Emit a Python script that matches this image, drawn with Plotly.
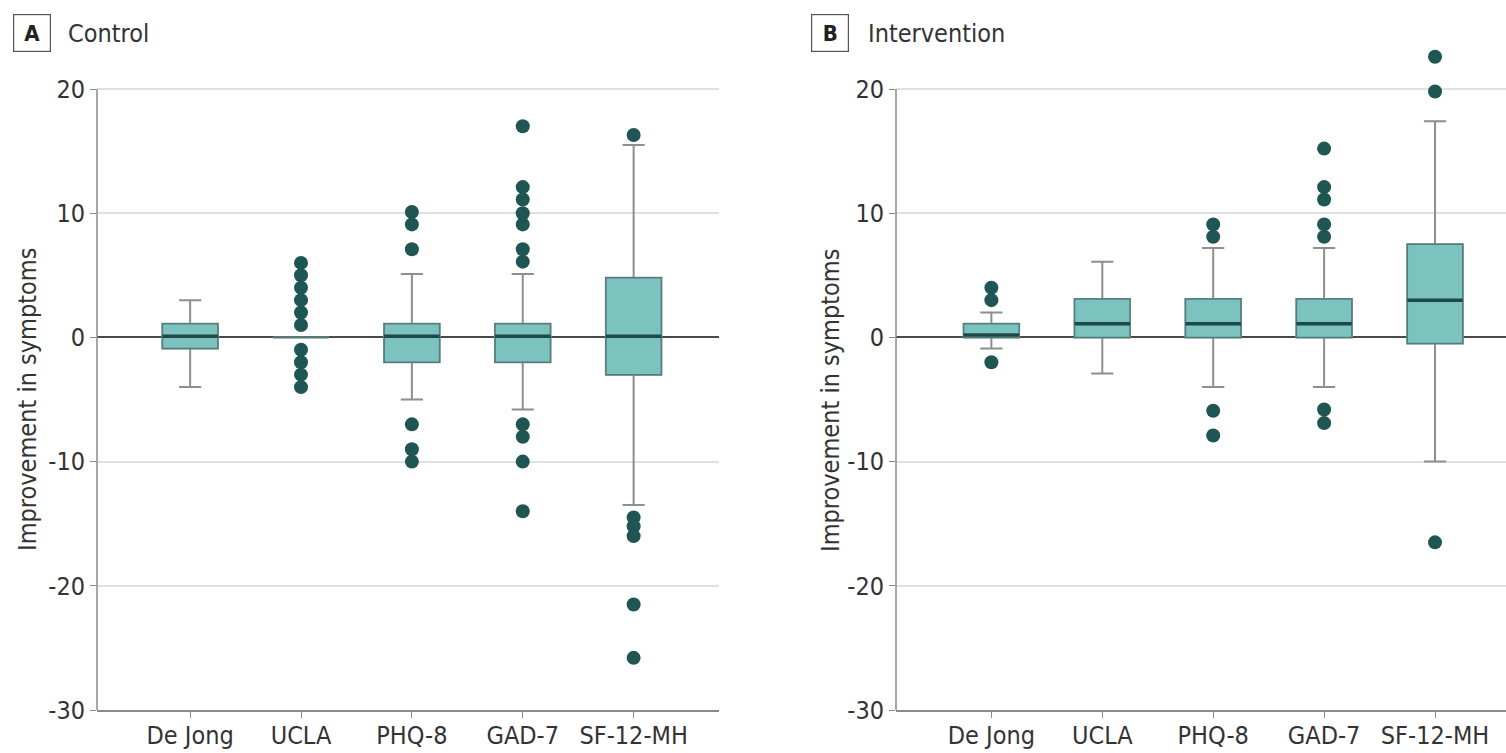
import plotly.graph_objects as go

# Outcome measures on the x axis
categories = ["De Jong", "UCLA", "PHQ-8", "GAD-7", "SF-12-MH"]

# Control group: box summary per measure
control_q1 = [-0.9, 0, -2, -2, -3]
control_median = [0.1, 0, 0.1, 0.1, 0.1]
control_q3 = [1.1, 0, 1.1, 1.1, 4.8]
control_lower = [-4, 0, -5, -5.8, -13.5]
control_upper = [3, 0, 5.1, 5.1, 15.5]
control_outliers = [
    [],
    [6, 5, 4, 3, 2, 1, -1, -2, -3, -4],
    [10.1, 9.1, 7.1, -7, -9, -10],
    [17, 12.1, 11.1, 10, 9.1, 7.1, 6.1, -7, -8, -10, -14],
    [16.3, -14.5, -15.2, -16, -21.5, -25.8],
]

# Intervention group: box summary per measure
intervention_q1 = [0, 0, 0, 0, -0.5]
intervention_median = [0.2, 1.1, 1.1, 1.1, 3.0]
intervention_q3 = [1.1, 3.1, 3.1, 3.1, 7.5]
intervention_lower = [-0.9, -2.9, -4, -4, -10]
intervention_upper = [2, 6.1, 7.2, 7.2, 17.4]
intervention_outliers = [
    [4, 3, -2],
    [],
    [9.1, 8.1, -5.9, -7.9],
    [15.2, 12.1, 11.1, 9.1, 8.1, -5.8, -6.9],
    [22.6, 19.8, -16.5],
]

y_ticks = [20, 10, 0, -10, -20, -30]
y_tick_text = ["20", "10", "0", "-10", "-20", "-30"]
y_axis_min, y_axis_max = -30, 20

FONT = "Liberation Sans Narrow, DejaVu Sans Condensed, Arial Narrow, sans-serif"
FILL = "#7cc2be"
OUTLINE = "#4f7f7d"
WHISKER = "#8e8e8e"
MEDIAN = "#1d4a48"
DOT = "#1f5553"
AXIS = "#8a8a8a"
TEXT = "#333333"
BOX_W = 0.5

W, H = 1506, 753
M_T, M_B = 52, 43
AXIS_TOP_PX, AXIS_BOTTOM_PX = 89, H - M_B
PX_PER_UNIT = (AXIS_BOTTOM_PX - AXIS_TOP_PX) / (y_axis_max - y_axis_min)
# headroom above the drawn axis so high outliers stay visible
y_range_top = y_axis_max + (AXIS_TOP_PX - M_T) / PX_PER_UNIT
PLOT_H = H - M_T - M_B

fig = go.Figure()

panels = [
    dict(q1=control_q1, med=control_median, q3=control_q3, lo=control_lower,
         hi=control_upper, out=control_outliers, xa="x", ya="y"),
    dict(q1=intervention_q1, med=intervention_median, q3=intervention_q3,
         lo=intervention_lower, hi=intervention_upper, out=intervention_outliers,
         xa="x2", ya="y2"),
]

positions = list(range(len(categories)))

for p in panels:
    # whiskers + caps (grey)
    fig.add_trace(go.Box(
        x=positions, q1=p["q1"], median=p["med"], q3=p["q3"],
        lowerfence=p["lo"], upperfence=p["hi"],
        width=BOX_W, whiskerwidth=0.4, fillcolor=FILL,
        line=dict(color=WHISKER, width=2), boxpoints=False,
        hoverinfo="skip", showlegend=False, xaxis=p["xa"], yaxis=p["ya"],
    ))
    # box body with darker outline
    fig.add_trace(go.Box(
        x=positions, q1=p["q1"], median=p["med"], q3=p["q3"],
        lowerfence=p["q1"], upperfence=p["q3"],
        width=BOX_W, whiskerwidth=0, fillcolor=FILL,
        line=dict(color=OUTLINE, width=1.5), boxpoints=False,
        hoverinfo="skip", showlegend=False, xaxis=p["xa"], yaxis=p["ya"],
    ))
    # thick median bars
    mx, my = [], []
    for i, m in enumerate(p["med"]):
        if p["q1"][i] == p["q3"][i]:
            continue
        mx += [i - BOX_W / 2, i + BOX_W / 2, None]
        my += [m, m, None]
    fig.add_trace(go.Scatter(
        x=mx, y=my, mode="lines", line=dict(color=MEDIAN, width=3.5),
        hoverinfo="skip", showlegend=False, xaxis=p["xa"], yaxis=p["ya"],
    ))
    # outliers
    ox, oy = [], []
    for i, vals in enumerate(p["out"]):
        ox += [i] * len(vals)
        oy += vals
    fig.add_trace(go.Scatter(
        x=ox, y=oy, mode="markers", cliponaxis=False,
        marker=dict(color=DOT, size=14, line=dict(width=0)),
        hoverinfo="skip", showlegend=False, xaxis=p["xa"], yaxis=p["ya"],
    ))

xaxis_common = dict(
    tickmode="array", tickvals=positions, ticktext=categories,
    showgrid=False, zeroline=False, showline=True, linecolor=AXIS,
    linewidth=1.5, ticks="outside", ticklen=6, tickcolor=AXIS,
    ticklabelstandoff=-4,
    tickfont=dict(family=FONT, size=25, color=TEXT), fixedrange=True,
)
yaxis_common = dict(
    range=[y_axis_min, y_range_top], tickmode="array", tickvals=y_ticks,
    ticktext=y_tick_text,
    showgrid=True, gridcolor="#e0e0e0", gridwidth=2,
    zeroline=True, zerolinecolor="#4a4a4a", zerolinewidth=1.5,
    showline=False,
    ticks="outside", ticklen=6, tickcolor=AXIS,
    tickfont=dict(family=FONT, size=25, color=TEXT), fixedrange=True,
)

left_dom = [97 / W, 719 / W]
right_dom = [896 / W, 1.0]

fig.update_layout(
    width=W, height=H,
    margin=dict(l=0, r=0, t=M_T, b=M_B),
    paper_bgcolor="white", plot_bgcolor="white",
    font=dict(family=FONT, color=TEXT),
    xaxis=dict(domain=left_dom, range=[-0.84, 4.77], **xaxis_common),
    yaxis=dict(anchor="x", **yaxis_common),
    xaxis2=dict(domain=right_dom, range=[-0.86, 4.64], anchor="y2", **xaxis_common),
    yaxis2=dict(anchor="x2", **yaxis_common),
)

# vertical axis lines span only the labelled range
shapes = []
for xref, yref in [("x domain", "y"), ("x2 domain", "y2")]:
    shapes.append(dict(
        type="line", xref=xref, yref=yref, x0=0, x1=0,
        y0=y_axis_min, y1=y_axis_max, line=dict(color=AXIS, width=1.5),
        layer="above",
    ))
fig.update_layout(shapes=shapes)


def py(px_from_top):
    """Convert a pixel row to paper y coordinate."""
    return (H - M_B - px_from_top) / PLOT_H


annotations = []
for letter, label, bx, tx, ax_title_x in [
    ("A", "Control", 32, 66, 27),
    ("B", "Intervention", 830, 866, 830),
]:
    annotations.append(dict(
        text="<b>" + letter + "</b>", x=bx / W, y=py(33), xref="paper", yref="paper",
        xanchor="center", yanchor="middle", showarrow=False,
        width=32, height=32, bordercolor="#555555", borderwidth=1.2, borderpad=2,
        font=dict(family=FONT, size=22, color="#222222"),
    ))
    annotations.append(dict(
        text=label, x=tx / W, y=py(33), xref="paper", yref="paper",
        xanchor="left", yanchor="middle", showarrow=False,
        font=dict(family=FONT, size=25, color=TEXT),
    ))
    annotations.append(dict(
        text="Improvement in symptoms", x=ax_title_x / W, y=py(400),
        xref="paper", yref="paper", xanchor="center", yanchor="middle",
        textangle=-90, showarrow=False,
        font=dict(family=FONT, size=25, color=TEXT),
    ))

fig.update_layout(annotations=annotations)

fig.write_html("out.html")
